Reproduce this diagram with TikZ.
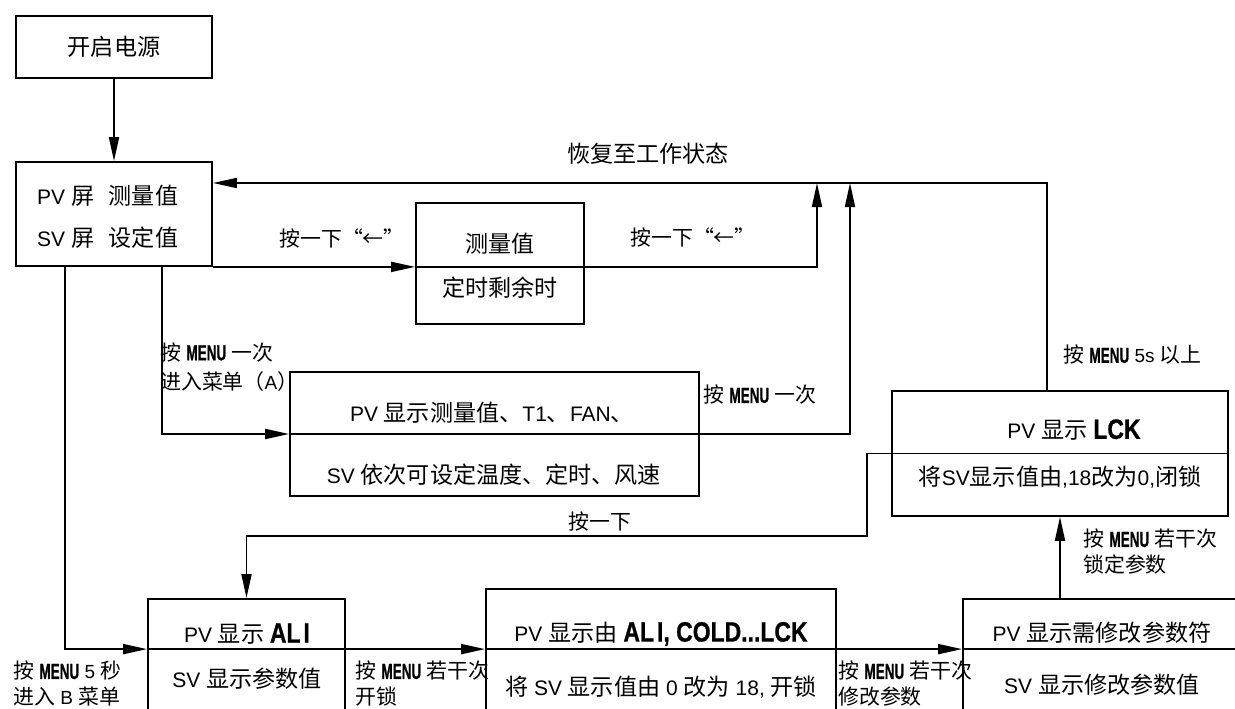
\documentclass[tikz,border=0pt]{standalone}
\usepackage{fontspec}
\setmainfont{Liberation Sans}
\newfontfamily\cjkfont[Scale=1.1]{Noto Sans CJK SC}
\newfontfamily\menufont[Scale=1.15,FakeStretch=0.62,FakeBold=0.6]{Liberation Sans}
\newfontfamily\codefont[FakeStretch=0.82,FakeBold=0.8]{Liberation Sans}
\newcommand{\zh}[1]{{\cjkfont #1}}
\newcommand{\mn}[1]{{\menufont\bfseries #1}}
\newcommand{\cd}[1]{{\codefont\bfseries\fontsize{28}{30}\selectfont #1}}
\usetikzlibrary{arrows.meta,calc}
\begin{document}
\begin{tikzpicture}[x=1pt,y=-1pt,
  box/.style={draw,line width=1.8pt,rectangle,inner sep=0pt},
  conn/.style={line width=1.8pt},
  arr/.style={conn,-{Triangle[length=24pt,width=10pt]}},
  btxt/.style={inner sep=0pt,font=\fontsize{21}{25}\selectfont},
  ltxt/.style={inner sep=0pt,font=\fontsize{19}{26}\selectfont,align=left}
]
\useasboundingbox (0,0) rectangle (1235,709);
\clip (0,0) rectangle (1235,709);

% boxes
\node[box,minimum width=196pt,minimum height=62pt,font=\fontsize{21}{25}\selectfont] (power) at (114,47) {\zh{开启电源}};
\node[box,minimum width=196pt,minimum height=104pt] (main) at (114,214) {};
\node[box,minimum width=168pt,minimum height=121pt] (meas) at (500,263.5) {};
\node[box,minimum width=409pt,minimum height=124pt] (menu) at (494.5,434) {};
\node[box,minimum width=336pt,minimum height=125pt] (lck) at (1060,453.5) {};
\node[box,minimum width=197pt,minimum height=161pt] (ali) at (246.5,679.5) {};
\node[box,minimum width=350pt,minimum height=171pt] (mid) at (661,674.5) {};
\node[box,minimum width=317pt,minimum height=161pt] (right) at (1121.5,679.5) {};

% box texts
\node[btxt,anchor=west] (mainpv) at (37,196) {PV \zh{屏}\hspace{0.7em}\zh{测量值}};
\node[btxt,anchor=west] (mainsv) at (37,238) {SV \zh{屏}\hspace{0.7em}\zh{设定值}};
\node[btxt] (meas1) at (500,244) {\zh{测量值}};
\node[btxt] (meas2) at (500,288) {\zh{定时剩余时}};
\node[btxt] (menu1) at (492,413) {PV \zh{显示测量值、}T1\zh{、}FAN\zh{、}};
\node[btxt] (menu2) at (494,475) {SV \zh{依次可设定温度、定时、风速}};
\node[btxt] (lck1) at (1074,430) {PV \zh{显示} \cd{LCK}};
\node[btxt] (lck2) at (1060,477) {\zh{将}SV\zh{显示值由},18\zh{改为}0,\zh{闭锁}};
\node[btxt] (ali1) at (247,634) {PV \zh{显示} \cd{AL\kern3pt I}};
\node[btxt] (ali2) at (247,679) {SV \zh{显示参数值}};
\node[btxt] (mid1) at (661,634) {PV \zh{显示由} \cd{AL\kern3pt I, COLD...LCK}};
\node[btxt] (mid2) at (661,687) {\zh{将} SV \zh{显示值由} 0 \zh{改为} 18, \zh{开锁}};
\node[btxt] (right1) at (1102,633) {PV \zh{显示需修改参数符}};
\node[btxt] (right2) at (1102,685) {SV \zh{显示修改参数值}};

% coordinates
\coordinate (ret) at (0,183);
\coordinate (up1) at (817,183);
\coordinate (up2) at (850,183);
\coordinate (alidivL) at ([yshift=-51pt]ali.north west);
\coordinate (alidivR) at ([yshift=-51pt]ali.north east);
\coordinate (k1) at (867,453.5);
\coordinate (k2) at (867,536);

% connectors
\draw[arr] (power.south) -- (main.north);
\draw[arr] ([xshift=-13pt]lck.north) |- (main.east |- ret);
\draw[arr] (main.south east) -- (main.south east -| meas.west);
\draw[conn] (main.south east -| meas.west) -- (main.south east -| meas.east);
\draw[arr] (main.south east -| meas.east) -| (up1);
\draw[arr] ([xshift=48pt]main.south) |- (menu.west);
\draw[conn] (menu.west) -- (menu.east);
\draw[arr] (menu.east) -| (up2);
\draw[arr] ([xshift=-49pt]main.south) |- (alidivL);
\draw[conn] (alidivL) -- (alidivR);
\draw[arr] (alidivR) -- (alidivR -| mid.west);
\draw[conn] (alidivR -| mid.west) -- (alidivR -| mid.east);
\draw[arr] (alidivR -| mid.east) -- (alidivR -| right.west);
\draw[conn] (alidivR -| right.west) -- (alidivR -| right.east);
\draw[arr] (right.north -| lck.south) -- (lck.south);
\draw[arr] (lck.east) -- (k1) |- (ali.north |- k2) -- (ali.north);

% labels
\node[ltxt,font=\fontsize{21}{26}\selectfont] (lret) at (648,154) {\zh{恢复至工作状态}};
\node[ltxt] (lkey1) at (342,239) {\zh{按一下“←”}};
\node[ltxt] (lkey2) at (693,238) {\zh{按一下“←”}};
\node[ltxt,anchor=west,font=\fontsize{19}{29}\selectfont] (lmenuA) at (160,367) {\zh{按} \mn{MENU} \zh{一次}\\\zh{进入菜单（}A\zh{）}};
\node[ltxt,anchor=west] (lmenu1) at (703,395) {\zh{按} \mn{MENU} \zh{一次}};
\node[ltxt,anchor=west] (l5s) at (1063,355) {\zh{按} \mn{MENU} 5s \zh{以上}};
\node[ltxt,anchor=west] (llock) at (1083,552) {\zh{按} \mn{MENU} \zh{若干次}\\\zh{锁定参数}};
\node[ltxt,anchor=west] (lB) at (13,684) {\zh{按} \mn{MENU} 5 \zh{秒}\\\zh{进入} B \zh{菜单}};
\node[ltxt,anchor=west] (lunlock) at (355,684) {\zh{按} \mn{MENU} \zh{若干次}\\\zh{开锁}};
\node[ltxt,anchor=west] (lmod) at (838,684) {\zh{按} \mn{MENU} \zh{若干次}\\\zh{修改参数}};
\node[ltxt] (lpress) at (600,522) {\zh{按一下}};
\end{tikzpicture}
\end{document}
